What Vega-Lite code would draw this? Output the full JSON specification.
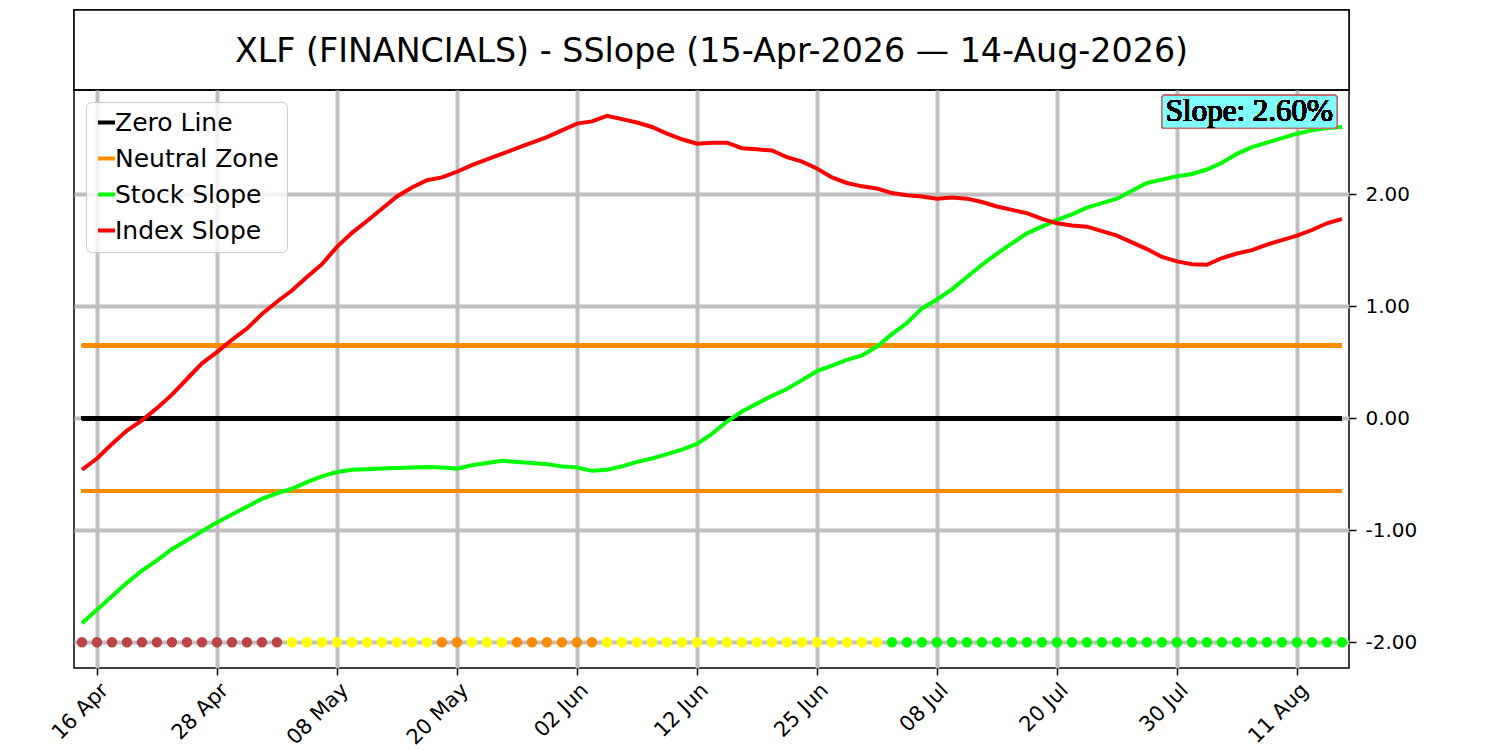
{
  "$schema": "https://vega.github.io/schema/vega-lite/v6.json",
  "description": "XLF stock slope vs index slope, trading-day axis",
  "padding": {"left": 46, "top": 8, "right": 0, "bottom": 0},
  "background": "white",
  "config": {
    "font": "DejaVu Sans",
    "view": {"stroke": "black", "strokeWidth": 1.5}
  },
  "datasets": {
    "slopes": [
      {"i": 0, "date": "2026-04-15", "stock": -1.83, "index": -0.46, "zone": "bear"},
      {"i": 1, "date": "2026-04-16", "stock": -1.71, "index": -0.36, "zone": "bear"},
      {"i": 2, "date": "2026-04-17", "stock": -1.59, "index": -0.23, "zone": "bear"},
      {"i": 3, "date": "2026-04-20", "stock": -1.47, "index": -0.11, "zone": "bear"},
      {"i": 4, "date": "2026-04-21", "stock": -1.36, "index": -0.02, "zone": "bear"},
      {"i": 5, "date": "2026-04-22", "stock": -1.27, "index": 0.09, "zone": "bear"},
      {"i": 6, "date": "2026-04-23", "stock": -1.17, "index": 0.21, "zone": "bear"},
      {"i": 7, "date": "2026-04-24", "stock": -1.09, "index": 0.35, "zone": "bear"},
      {"i": 8, "date": "2026-04-27", "stock": -1.01, "index": 0.49, "zone": "bear"},
      {"i": 9, "date": "2026-04-28", "stock": -0.93, "index": 0.59, "zone": "bear"},
      {"i": 10, "date": "2026-04-29", "stock": -0.86, "index": 0.70, "zone": "bear"},
      {"i": 11, "date": "2026-04-30", "stock": -0.79, "index": 0.80, "zone": "bear"},
      {"i": 12, "date": "2026-05-01", "stock": -0.72, "index": 0.93, "zone": "bear"},
      {"i": 13, "date": "2026-05-04", "stock": -0.67, "index": 1.04, "zone": "bear"},
      {"i": 14, "date": "2026-05-05", "stock": -0.63, "index": 1.14, "zone": "up"},
      {"i": 15, "date": "2026-05-06", "stock": -0.57, "index": 1.26, "zone": "up"},
      {"i": 16, "date": "2026-05-07", "stock": -0.52, "index": 1.375, "zone": "up"},
      {"i": 17, "date": "2026-05-08", "stock": -0.48, "index": 1.53, "zone": "up"},
      {"i": 18, "date": "2026-05-11", "stock": -0.46, "index": 1.655, "zone": "up"},
      {"i": 19, "date": "2026-05-12", "stock": -0.455, "index": 1.76, "zone": "up"},
      {"i": 20, "date": "2026-05-13", "stock": -0.45, "index": 1.87, "zone": "up"},
      {"i": 21, "date": "2026-05-14", "stock": -0.445, "index": 1.98, "zone": "up"},
      {"i": 22, "date": "2026-05-15", "stock": -0.44, "index": 2.06, "zone": "up"},
      {"i": 23, "date": "2026-05-18", "stock": -0.435, "index": 2.125, "zone": "up"},
      {"i": 24, "date": "2026-05-19", "stock": -0.44, "index": 2.15, "zone": "down"},
      {"i": 25, "date": "2026-05-20", "stock": -0.45, "index": 2.20, "zone": "down"},
      {"i": 26, "date": "2026-05-21", "stock": -0.42, "index": 2.26, "zone": "up"},
      {"i": 27, "date": "2026-05-22", "stock": -0.40, "index": 2.31, "zone": "up"},
      {"i": 28, "date": "2026-05-26", "stock": -0.38, "index": 2.36, "zone": "up"},
      {"i": 29, "date": "2026-05-27", "stock": -0.39, "index": 2.41, "zone": "down"},
      {"i": 30, "date": "2026-05-28", "stock": -0.40, "index": 2.46, "zone": "down"},
      {"i": 31, "date": "2026-05-29", "stock": -0.41, "index": 2.51, "zone": "down"},
      {"i": 32, "date": "2026-06-01", "stock": -0.43, "index": 2.57, "zone": "down"},
      {"i": 33, "date": "2026-06-02", "stock": -0.44, "index": 2.63, "zone": "down"},
      {"i": 34, "date": "2026-06-03", "stock": -0.47, "index": 2.65, "zone": "down"},
      {"i": 35, "date": "2026-06-04", "stock": -0.46, "index": 2.70, "zone": "up"},
      {"i": 36, "date": "2026-06-05", "stock": -0.43, "index": 2.67, "zone": "up"},
      {"i": 37, "date": "2026-06-08", "stock": -0.39, "index": 2.64, "zone": "up"},
      {"i": 38, "date": "2026-06-09", "stock": -0.36, "index": 2.60, "zone": "up"},
      {"i": 39, "date": "2026-06-10", "stock": -0.32, "index": 2.54, "zone": "up"},
      {"i": 40, "date": "2026-06-11", "stock": -0.28, "index": 2.49, "zone": "up"},
      {"i": 41, "date": "2026-06-12", "stock": -0.23, "index": 2.45, "zone": "up"},
      {"i": 42, "date": "2026-06-15", "stock": -0.14, "index": 2.46, "zone": "up"},
      {"i": 43, "date": "2026-06-16", "stock": -0.03, "index": 2.46, "zone": "up"},
      {"i": 44, "date": "2026-06-17", "stock": 0.06, "index": 2.41, "zone": "up"},
      {"i": 45, "date": "2026-06-18", "stock": 0.13, "index": 2.40, "zone": "up"},
      {"i": 46, "date": "2026-06-22", "stock": 0.20, "index": 2.39, "zone": "up"},
      {"i": 47, "date": "2026-06-23", "stock": 0.26, "index": 2.33, "zone": "up"},
      {"i": 48, "date": "2026-06-24", "stock": 0.34, "index": 2.29, "zone": "up"},
      {"i": 49, "date": "2026-06-25", "stock": 0.42, "index": 2.23, "zone": "up"},
      {"i": 50, "date": "2026-06-26", "stock": 0.47, "index": 2.15, "zone": "up"},
      {"i": 51, "date": "2026-06-29", "stock": 0.52, "index": 2.10, "zone": "up"},
      {"i": 52, "date": "2026-06-30", "stock": 0.56, "index": 2.07, "zone": "up"},
      {"i": 53, "date": "2026-07-01", "stock": 0.64, "index": 2.05, "zone": "up"},
      {"i": 54, "date": "2026-07-02", "stock": 0.75, "index": 2.01, "zone": "bull"},
      {"i": 55, "date": "2026-07-06", "stock": 0.85, "index": 1.99, "zone": "bull"},
      {"i": 56, "date": "2026-07-07", "stock": 0.98, "index": 1.98, "zone": "bull"},
      {"i": 57, "date": "2026-07-08", "stock": 1.06, "index": 1.96, "zone": "bull"},
      {"i": 58, "date": "2026-07-09", "stock": 1.15, "index": 1.97, "zone": "bull"},
      {"i": 59, "date": "2026-07-10", "stock": 1.26, "index": 1.96, "zone": "bull"},
      {"i": 60, "date": "2026-07-13", "stock": 1.37, "index": 1.93, "zone": "bull"},
      {"i": 61, "date": "2026-07-14", "stock": 1.47, "index": 1.89, "zone": "bull"},
      {"i": 62, "date": "2026-07-15", "stock": 1.56, "index": 1.86, "zone": "bull"},
      {"i": 63, "date": "2026-07-16", "stock": 1.65, "index": 1.83, "zone": "bull"},
      {"i": 64, "date": "2026-07-17", "stock": 1.71, "index": 1.78, "zone": "bull"},
      {"i": 65, "date": "2026-07-20", "stock": 1.77, "index": 1.74, "zone": "bull"},
      {"i": 66, "date": "2026-07-21", "stock": 1.82, "index": 1.72, "zone": "bull"},
      {"i": 67, "date": "2026-07-22", "stock": 1.88, "index": 1.71, "zone": "bull"},
      {"i": 68, "date": "2026-07-23", "stock": 1.92, "index": 1.67, "zone": "bull"},
      {"i": 69, "date": "2026-07-24", "stock": 1.96, "index": 1.63, "zone": "bull"},
      {"i": 70, "date": "2026-07-27", "stock": 2.03, "index": 1.57, "zone": "bull"},
      {"i": 71, "date": "2026-07-28", "stock": 2.10, "index": 1.51, "zone": "bull"},
      {"i": 72, "date": "2026-07-29", "stock": 2.13, "index": 1.44, "zone": "bull"},
      {"i": 73, "date": "2026-07-30", "stock": 2.16, "index": 1.40, "zone": "bull"},
      {"i": 74, "date": "2026-07-31", "stock": 2.18, "index": 1.375, "zone": "bull"},
      {"i": 75, "date": "2026-08-03", "stock": 2.22, "index": 1.37, "zone": "bull"},
      {"i": 76, "date": "2026-08-04", "stock": 2.28, "index": 1.43, "zone": "bull"},
      {"i": 77, "date": "2026-08-05", "stock": 2.36, "index": 1.47, "zone": "bull"},
      {"i": 78, "date": "2026-08-06", "stock": 2.42, "index": 1.50, "zone": "bull"},
      {"i": 79, "date": "2026-08-07", "stock": 2.46, "index": 1.55, "zone": "bull"},
      {"i": 80, "date": "2026-08-10", "stock": 2.50, "index": 1.59, "zone": "bull"},
      {"i": 81, "date": "2026-08-11", "stock": 2.54, "index": 1.63, "zone": "bull"},
      {"i": 82, "date": "2026-08-12", "stock": 2.57, "index": 1.68, "zone": "bull"},
      {"i": 83, "date": "2026-08-13", "stock": 2.59, "index": 1.74, "zone": "bull"},
      {"i": 84, "date": "2026-08-14", "stock": 2.60, "index": 1.78, "zone": "bull"}
    ]
  },
  "spacing": 0,
  "bounds": "flush",
  "vconcat": [
    {
      "width": 1275,
      "height": 80,
      "view": {"stroke": "black", "strokeWidth": 1.5},
      "data": {"values": [{}]},
      "layer": [
        {
          "mark": {"type": "rect", "fill": "white", "stroke": "black", "strokeWidth": 1.5},
          "encoding": {
            "x": {"datum": 0, "type": "quantitative", "scale": {"domain": [0, 1], "nice": false}, "axis": null},
            "x2": {"datum": 1},
            "y": {"datum": 0, "type": "quantitative", "scale": {"domain": [0, 1], "nice": false}, "axis": null},
            "y2": {"datum": 1}
          }
        },
        {
          "mark": {
            "type": "text",
            "text": "XLF (FINANCIALS) - SSlope (15-Apr-2026 \u2014 14-Aug-2026)",
            "fontSize": 33.3,
            "fill": "black",
            "dy": 2
          },
          "encoding": {
            "x": {"datum": 0.5, "type": "quantitative"},
            "y": {"datum": 0.5, "type": "quantitative"}
          }
        }
      ]
    },
    {
      "width": 1275,
      "height": 578,
      "data": {"name": "slopes"},
      "encoding": {
        "x": {
          "field": "i",
          "type": "quantitative",
          "title": null,
          "scale": {"domain": [-0.53, 84.47], "nice": false, "zero": false},
          "axis": {
            "values": [1, 9, 17, 25, 33, 41, 49, 57, 65, 73, 81],
            "labelExpr": "['16 Apr','28 Apr','08 May','20 May','02 Jun','12 Jun','25 Jun','08 Jul','20 Jul','30 Jul','11 Aug'][round((datum.value - 1) / 8)]",
            "labelAngle": -45,
            "labelAlign": "right",
            "labelBaseline": "top",
            "labelFontSize": 21,
            "labelColor": "black",
            "labelPadding": 4,
            "labelFlush": false,
            "labelOverlap": false,
            "domain": false,
            "tickColor": "black",
            "tickSize": 7,
            "tickWidth": 1.5,
            "grid": true,
            "gridColor": "#bfbfbf",
            "gridWidth": 4
          }
        }
      },
      "layer": [
        {
          "mark": {"type": "rule", "strokeWidth": 4},
          "encoding": {
            "x": {"datum": 0, "type": "quantitative"},
            "x2": {"datum": 84},
            "y": {"datum": 0, "type": "quantitative"},
            "color": {"datum": "Zero Line"}
          }
        },
        {
          "mark": {"type": "rule", "strokeWidth": 4},
          "encoding": {
            "x": {"datum": 0, "type": "quantitative"},
            "x2": {"datum": 84},
            "y": {"datum": 0.65, "type": "quantitative"},
            "color": {"datum": "Neutral Zone"}
          }
        },
        {
          "mark": {"type": "rule", "strokeWidth": 4},
          "encoding": {
            "x": {"datum": 0, "type": "quantitative"},
            "x2": {"datum": 84},
            "y": {"datum": -0.65, "type": "quantitative"},
            "color": {"datum": "Neutral Zone"}
          }
        },
        {
          "mark": {"type": "line", "strokeWidth": 4},
          "encoding": {
            "y": {
              "field": "stock",
              "type": "quantitative",
              "title": null,
              "scale": {"domain": [-2.23, 2.93], "nice": false, "zero": false},
              "axis": {
                "orient": "right",
                "values": [-2, -1, 0, 1, 2],
                "labelExpr": "replace(format(datum.value, '.2f'), '\u2212', '-')",
                "labelFontSize": 20,
                "labelColor": "black",
                "labelPadding": 9,
                "domain": false,
                "tickColor": "black",
                "tickSize": 7,
                "tickWidth": 1.5,
                "grid": true,
                "gridColor": "#bfbfbf",
                "gridWidth": 4
              }
            },
            "color": {
              "datum": "Stock Slope",
              "scale": {
                "domain": ["Zero Line", "Neutral Zone", "Stock Slope", "Index Slope"],
                "range": ["#000000", "#ff8c00", "#00ff00", "#ff0000"]
              },
              "legend": {
                "title": null,
                "orient": "none",
                "legendX": 12,
                "legendY": 92,
                "symbolType": "stroke",
                "symbolSize": 289,
                "symbolStrokeWidth": 4,
                "labelFontSize": 25,
                "labelOffset": -4,
                "labelLimit": 400,
                "labelColor": "black",
                "rowPadding": 10,
                "padding": 8,
                "fillColor": "rgba(255,255,255,0.8)",
                "strokeColor": "#cccccc",
                "cornerRadius": 5
              }
            }
          }
        },
        {
          "mark": {"type": "line", "strokeWidth": 4},
          "encoding": {
            "y": {"field": "index", "type": "quantitative"},
            "color": {"datum": "Index Slope"}
          }
        },
        {
          "mark": {"type": "circle", "size": 110, "opacity": 1},
          "encoding": {
            "y": {"datum": -2, "type": "quantitative"},
            "fill": {
              "field": "zone",
              "type": "nominal",
              "scale": {
                "domain": ["bear", "up", "down", "bull"],
                "range": ["#bb4444", "#ffff00", "#ff8c00", "#00ff00"]
              },
              "legend": null
            }
          }
        },
        {
          "mark": {
            "type": "rect",
            "fill": "#80ffff",
            "stroke": "#c07070",
            "strokeWidth": 1.5,
            "cornerRadius": 3
          },
          "encoding": {
            "x": {"datum": 72.0, "type": "quantitative"},
            "x2": {"datum": 83.67},
            "y": {"datum": 2.884, "type": "quantitative"},
            "y2": {"datum": 2.589}
          }
        },
        {
          "mark": {
            "type": "text",
            "text": "Slope: 2.60%",
            "font": "Liberation Serif",
            "fontSize": 31,
            "fontWeight": "normal",
            "fill": "black"
          },
          "encoding": {
            "x": {"datum": 77.83, "type": "quantitative"},
            "y": {"datum": 2.737, "type": "quantitative"}
          }
        }
      ]
    }
  ]
}
